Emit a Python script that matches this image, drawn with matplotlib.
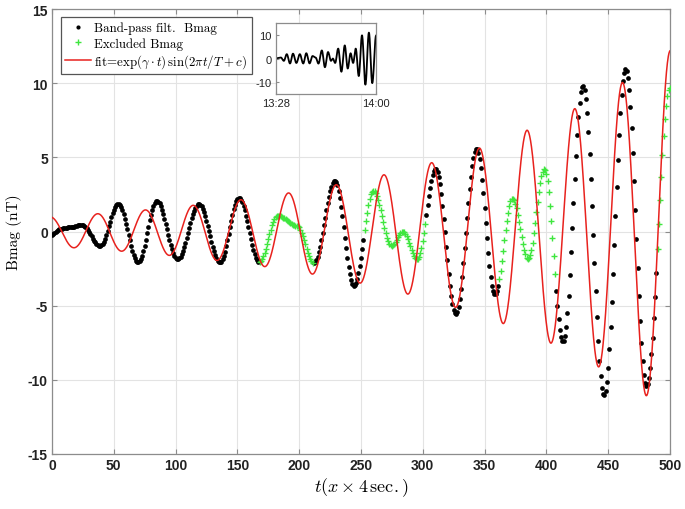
"""Band-pass filtered Bmag with the growing-sine fit, and a raw-signal inset."""
import numpy as np
import matplotlib

matplotlib.use("Agg")
import matplotlib.pyplot as plt  # noqa: E402
from matplotlib.lines import Line2D  # noqa: E402

plt.rcParams["mathtext.fontset"] = "cm"
plt.rcParams["axes.unicode_minus"] = False

# --- data ---
# turning points (sample index, nT) of the measured signal
KNOT_T = [0, 7, 15, 24, 39, 53.6, 69.8, 84.7, 101.6, 118.9, 135.9, 151.2, 167.7,
          182.5, 198, 212, 228.9, 244.3, 260, 274.7, 284, 295.5, 310.6, 326.7,
          343.5, 358.3, 372.6, 385.3, 398.4, 413.5, 429.7, 446.7, 464.2, 481, 500]
KNOT_V = [-0.2, 0.2, 0.3, 0.45, -0.96, 1.86, -2.08, 2.08, -1.86, 1.86, -2.08, 2.26, -2.04,
          1.07, 0.4, -2.13, 3.43, -3.66, 2.76, -0.96, 0.0, -1.86, 4.22, -5.57,
          5.57, -4.22, 2.24, -1.86, 4.22, -7.4, 9.85, -11.05, 10.98, -10.4, 9.7]
# sample ranges drawn as "Excluded Bmag"
EXCLUDED = [(168, 211), (253, 302), (362, 407), (490, 500)]
# fit = A exp(gamma t) sin(2 pi t / T + c)
FIT_A, FIT_GAMMA, FIT_T, FIT_C = 1.0, 0.005, 38.6, 1.85

X_TICKS = list(range(0, 501, 50))
Y_TICKS = list(range(-15, 16, 5))
INSET_TICKLABELS = ["13:28", "14:00"]

GRID = "#e3e3e3"
SPINE = "#8c8c8c"
GREEN = "#3fe63f"
RED = "#e8221e"


def sampled_signal(t):
    """Samples between turning points follow half-cosine arcs."""
    out = np.zeros_like(t, dtype=float)
    for t0, t1, v0, v1 in zip(KNOT_T[:-1], KNOT_T[1:], KNOT_V[:-1], KNOT_V[1:]):
        m = (t >= t0) & (t <= t1)
        s = (t[m] - t0) / (t1 - t0)
        out[m] = v0 + (v1 - v0) * (1 - np.cos(np.pi * s)) / 2
    return out


def style_box(ax, labelsize, bold):
    for sp in ax.spines.values():
        sp.set_color(SPINE)
        sp.set_linewidth(0.9)
    ax.tick_params(direction="in", top=True, right=True, color=SPINE,
                   length=3.5, width=0.8, labelsize=labelsize, pad=3,
                   labelcolor="#222222")
    for lab in ax.get_xticklabels() + ax.get_yticklabels():
        lab.set_fontfamily("Liberation Sans")
        if bold:
            lab.set_fontweight("bold")


t = np.arange(0, 501)
bmag = sampled_signal(t)
excl = np.zeros_like(t, dtype=bool)
for a, b in EXCLUDED:
    excl |= (t >= a) & (t <= b)

tf = np.linspace(0, 500, 2001)
fit = FIT_A * np.exp(FIT_GAMMA * tf) * np.sin(2 * np.pi * tf / FIT_T + FIT_C)

fig = plt.figure(figsize=(6.85, 5.10), dpi=100, facecolor="white")
ax = fig.add_axes([0.0759, 0.108, 0.902, 0.872])

ax.plot(t[~excl], bmag[~excl], "o", color="black", ms=3.4, mec="none", zorder=3)
ax.plot(t[excl], bmag[excl], "+", color=GREEN, ms=4.2, mew=1.0, zorder=3)
ax.plot(tf, fit, color=RED, lw=1.1, zorder=4)

ax.set_xlim(0, 500)
ax.set_ylim(-15, 15)
ax.set_xticks(X_TICKS)
ax.set_yticks(Y_TICKS)
ax.grid(True, color=GRID, lw=0.8)
ax.set_axisbelow(True)
style_box(ax, 10, True)

ax.set_xlabel(r"$t(x\times 4\,\mathrm{sec.})$", fontsize=13, labelpad=2)
ax.set_ylabel("Bmag (nT)", fontfamily="cmr10", fontsize=11, labelpad=4)

handles = [
    Line2D([0], [0], ls="none", marker="o", color="black", ms=3.0, mec="none"),
    Line2D([0], [0], ls="none", marker="+", color=GREEN, ms=4.0, mew=1.0),
    Line2D([0], [0], color=RED, lw=1.1),
]
labels = ["Band-pass filt.  Bmag", "Excluded Bmag",
          r"fit=$\exp(\gamma\cdot t)\,\sin(2\pi t/T+c)$"]
leg = ax.legend(handles, labels, loc="upper left", bbox_to_anchor=(0.014, 0.982),
                prop={"family": "cmr10", "size": 9.3}, fancybox=False,
                edgecolor="#555555", framealpha=1, borderpad=0.35,
                handlelength=2.0, handletextpad=0.25, labelspacing=0.2,
                borderaxespad=0)
leg.get_frame().set_linewidth(0.9)

# inset: the same signal as a line over the observation window
ins = fig.add_axes([0.403, 0.8137, 0.146, 0.139])
ins.plot(t, bmag, color="black", lw=1.3)
ins.set_xlim(0, 500)
ins.set_ylim(-15, 15)
ins.set_xticks([0, 500])
ins.set_xticklabels(INSET_TICKLABELS)
ins.set_yticks([-10, 0, 10])
style_box(ins, 8, False)
ins.tick_params(top=False, right=False, length=2.5)

fig.savefig("out.png", dpi=100, facecolor="white")
